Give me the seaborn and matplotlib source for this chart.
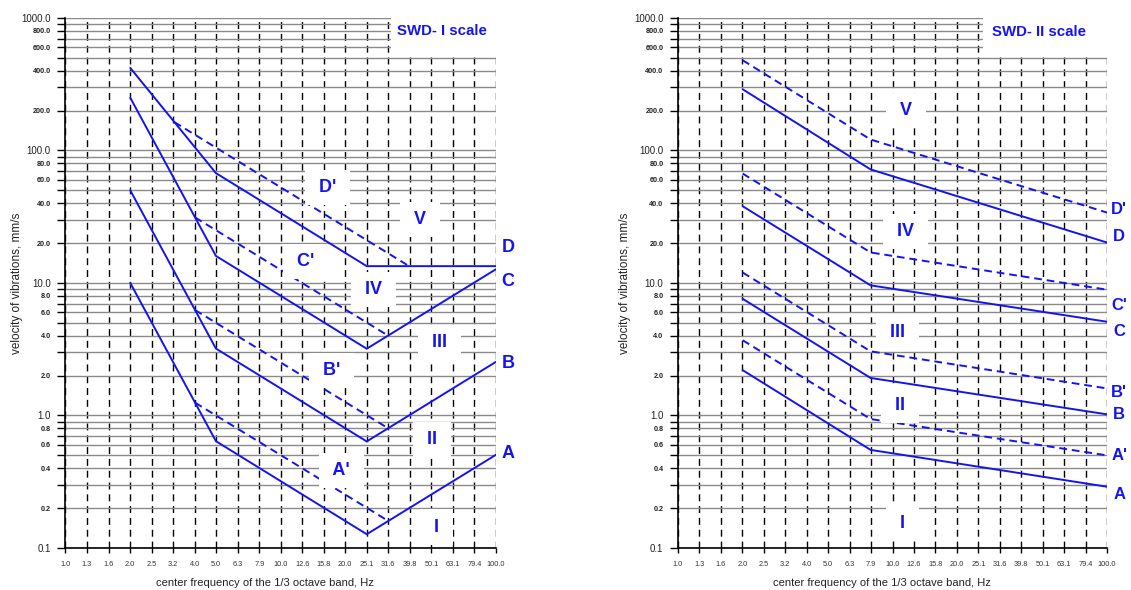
import matplotlib.pyplot as plt
import seaborn as sns
from matplotlib.patches import Rectangle
from matplotlib.ticker import NullLocator

sns.set_theme(style="white")
plt.rcParams['font.family'] = ['Liberation Sans', 'DejaVu Sans']

BLUE = '#1414f0'

# 1/3 octave band centre frequencies, Hz
bands = [1.0, 1.3, 1.6, 2.0, 2.5, 3.2, 4.0, 5.0, 6.3, 7.9, 10.0,
         12.6, 15.8, 20.0, 25.1, 31.6, 39.8, 50.1, 63.1, 79.4, 100.0]

# SWD-I scale limit lines (velocity, mm/s)
s1_A_f, s1_A = [2.0, 5.0, 25.1, 100.0], [10.0, 0.64, 0.127, 0.505]
s1_Ad_f, s1_Ad = [4.0, 31.6], [1.25, 0.16]
s1_B_f, s1_B = [2.0, 5.0, 25.1, 100.0], [50.0, 3.2, 0.637, 2.54]
s1_Bd_f, s1_Bd = [4.0, 31.6], [6.25, 0.80]
s1_C_f, s1_C = [2.0, 5.0, 25.1, 100.0], [250.0, 16.0, 3.19, 12.7]
s1_Cd_f, s1_Cd = [4.0, 31.6], [31.25, 4.0]
s1_D_f, s1_D = [2.0, 5.0, 25.1, 100.0], [420.0, 67.5, 13.4, 13.4]
s1_Dd_f, s1_Dd = [3.2, 39.8], [164.0, 13.3]

# SWD-II scale limit lines
s2_f = [2.0, 7.9, 100.0]
s2_A = [2.2, 0.55, 0.29]
s2_Ad = [3.7, 0.94, 0.50]
s2_B = [7.6, 1.92, 1.02]
s2_Bd = [12.0, 3.05, 1.6]
s2_C = [38.0, 9.6, 5.1]
s2_Cd = [67.0, 17.0, 8.9]
s2_D = [290.0, 72.0, 20.2]
s2_Dd = [480.0, 121.0, 34.0]

# zone labels (text, freq, velocity)
s1_zones = [("D'", 16.5, 52.6), ("V", 44.6, 30.1), ("C'", 13.0, 14.5),
            ("IV", 26.9, 8.9), ("III", 54.6, 3.54), ("B'", 17.2, 2.2),
            ("II", 50.7, 0.655), ("A'", 19.1, 0.382), ("I", 52.9, 0.144)]
s1_ends = [("D", 18.5), ("C", 10.2), ("B", 2.46), ("A", 0.52)]
s2_zones = [("V", 11.6, 201.0), ("IV", 11.5, 24.3), ("III", 10.6, 4.2),
            ("II", 10.8, 1.18), ("I", 11.1, 0.154)]
s2_ends = [("D'", 35.9), ("D", 22.5), ("C'", 6.75), ("C", 4.31),
           ("B'", 1.50), ("B", 1.02), ("A'", 0.496), ("A", 0.252)]

# y ticks: every integer multiple, labels on 1,2,4,6,8
y_ticks = [m * 10.0 ** e for e in range(-1, 3) for m in range(1, 10)] + [1000.0]
y_labeled = [1, 2, 4, 6, 8]

fig = plt.figure(figsize=(11.31, 5.90), dpi=100)
ax1 = fig.add_axes([0.0579, 0.0712, 0.3806, 0.8983])
ax2 = fig.add_axes([0.5995, 0.0712, 0.3793, 0.8983])

band_pos = [10 ** (k / 10) for k in range(len(bands))]


def mantissa(v):
    return round(v / 10 ** int(f'{v:e}'.split('e')[1]))


def setup_axes(ax, box_x0):
    ax.set_xscale('log')
    ax.set_yscale('log')
    ax.set_xlim(1.0, 100.0)
    ax.set_ylim(0.1, 1000.0)
    ax.set_xticks(band_pos, [f'{b:.1f}' for b in bands])
    ax.xaxis.set_minor_locator(NullLocator())
    labels = [f'{v:.1f}' if mantissa(v) in y_labeled else '' for v in y_ticks]
    ax.set_yticks(y_ticks, labels)
    ax.yaxis.set_minor_locator(NullLocator())
    for lab, v in zip(ax.get_yticklabels(), y_ticks):
        if mantissa(v) == 1:
            lab.set_fontsize(7)
            lab.set_fontweight('normal')
        else:
            lab.set_fontsize(5.2)
            lab.set_fontweight('bold')
        lab.set_color('#222222')
    for lab in ax.get_xticklabels():
        lab.set_fontsize(5.3)
        lab.set_color('#333333')
    ax.tick_params(axis='y', which='major', left=True, length=6, width=1.0,
                   color='black', pad=4.5)
    ax.tick_params(axis='x', which='major', bottom=True, length=3.5, width=1.0,
                   color='black', pad=6)
    ax.set_axisbelow(True)
    ax.grid(True, axis='y', which='major', color='#8a8a8a', lw=1.0)
    ax.grid(True, axis='x', which='major', color='black', lw=1.0,
            linestyle=(0, (5, 3.5)))
    for s in ['top', 'right']:
        ax.spines[s].set_visible(False)
    for s in ['left', 'bottom']:
        ax.spines[s].set_color('black')
        ax.spines[s].set_linewidth(1.2)
    ax.add_patch(Rectangle((box_x0, 520.0), 110.0 - box_x0, 600.0,
                           facecolor='white', edgecolor='none', zorder=2))


def draw_line(ax, f, v, dashed=False):
    ls = (0, (4, 2.5)) if dashed else '-'
    sns.lineplot(x=f, y=v, ax=ax, color=BLUE, lw=1.4, linestyle=ls,
                 sort=False, zorder=3)


def zone_label(ax, txt, f, v, size=13):
    ax.text(f, v, f' {txt} ', ha='center', va='center', fontsize=size,
            fontweight='bold', color=BLUE, zorder=4,
            bbox=dict(facecolor='white', edgecolor='none',
                      boxstyle='square,pad=0.5'))


def end_label(ax, txt, v, size=13):
    ax.text(114.0, v, txt, ha='center', va='center', fontsize=size,
            fontweight='bold', color=BLUE, clip_on=False, zorder=4)


setup_axes(ax1, 32.5)
setup_axes(ax2, 26.5)

draw_line(ax1, s1_A_f, s1_A)
draw_line(ax1, s1_Ad_f, s1_Ad, dashed=True)
draw_line(ax1, s1_B_f, s1_B)
draw_line(ax1, s1_Bd_f, s1_Bd, dashed=True)
draw_line(ax1, s1_C_f, s1_C)
draw_line(ax1, s1_Cd_f, s1_Cd, dashed=True)
draw_line(ax1, s1_D_f, s1_D)
draw_line(ax1, s1_Dd_f, s1_Dd, dashed=True)

for vals, dashed in [(s2_A, False), (s2_Ad, True), (s2_B, False), (s2_Bd, True),
                     (s2_C, False), (s2_Cd, True), (s2_D, False), (s2_Dd, True)]:
    draw_line(ax2, s2_f, vals, dashed=dashed)

for txt, f, v in s1_zones:
    zone_label(ax1, txt, f, v)
for txt, v in s1_ends:
    end_label(ax1, txt, v)
for txt, f, v in s2_zones:
    zone_label(ax2, txt, f, v)
for txt, v in s2_ends:
    end_label(ax2, txt, v, size=12)

ax1.text(56.4, 795.0, 'SWD- I scale', ha='center', va='center', fontsize=10.8,
         fontweight='bold', color=BLUE, zorder=4)
ax2.text(48.2, 781.0, 'SWD- II scale', ha='center', va='center', fontsize=10.8,
         fontweight='bold', color=BLUE, zorder=4)

for ax in (ax1, ax2):
    ax.set_xlabel('')
    ax.set_ylabel('')

ylab = 'velocity of vibrations, mm/s'
xlab = 'center frequency of the 1/3 octave band, Hz'
fig.text(16.7 / 1131, 1 - 283 / 590, ylab, rotation=90, ha='center',
         va='center', fontsize=8.5, color='#222222')
fig.text(625 / 1131, 1 - 283 / 590, ylab, rotation=90, ha='center',
         va='center', fontsize=8.5, color='#222222')
fig.text(265 / 1131, 1 - 583 / 590, xlab, ha='center', va='center',
         fontsize=8.0, color='#222222')
fig.text(882 / 1131, 1 - 583 / 590, xlab, ha='center', va='center',
         fontsize=8.0, color='#222222')

fig.savefig('out.png', dpi=100, facecolor='white')
